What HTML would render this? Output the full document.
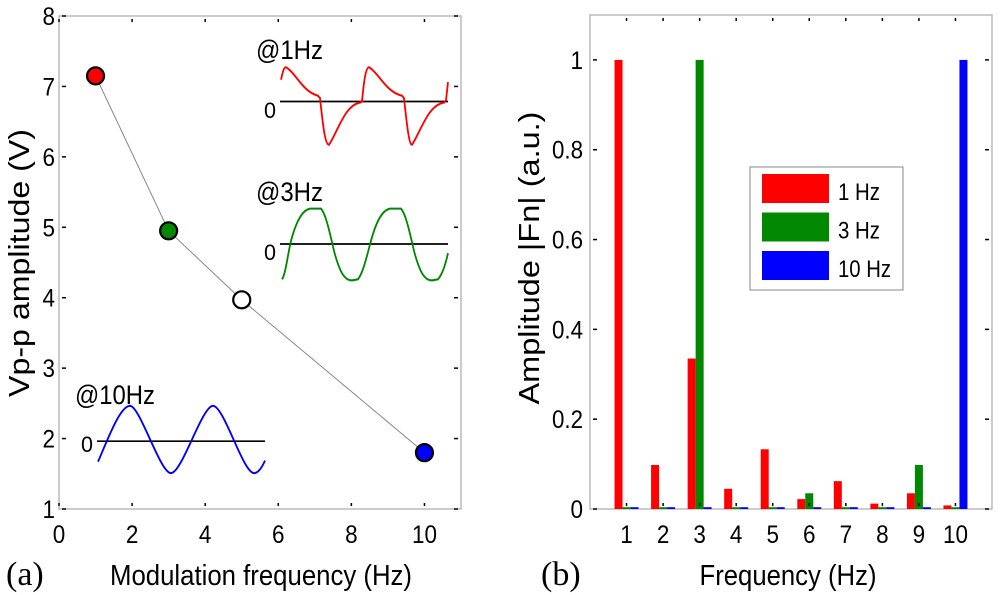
<!DOCTYPE html>
<html><head><meta charset="utf-8"><style>
body{margin:0;background:#fff;width:1000px;height:595px;overflow:hidden}
svg{display:block}
text{font-family:"Liberation Sans",sans-serif;fill:#000}
</style></head><body>
<svg id="fig" width="1000" height="595" viewBox="0 0 1000 595">
<g id="pa"></g>
<g id="pb"></g>
<g>
<text x="256" y="59" font-size="27" textLength="67" lengthAdjust="spacingAndGlyphs">@1Hz</text>
<text x="264" y="118" font-size="22" textLength="12" lengthAdjust="spacingAndGlyphs">0</text>
<g transform="scale(1,1.14)">
<line x1="280" y1="89" x2="448" y2="89" stroke="#000" stroke-width="1.5"/>
<path d="M281,70 C283,62 284,59 286,59 C296,64 302,80 318,84 L320,86 C323,110 325,127 329,127 C338,115 345,92 360,90 L362,89 C364,70 366,59 369,59 C379,64 385,80 402,84 L404,86 C407,110 409,127 412,127 C421,115 428,92 444,90 L446,88 L448,72" fill="none" stroke="#f00" stroke-width="1.8"/>
</g></g>
<g>
<text x="256" y="201" font-size="27" textLength="67" lengthAdjust="spacingAndGlyphs">@3Hz</text>
<text x="264" y="260" font-size="22" textLength="12" lengthAdjust="spacingAndGlyphs">0</text>
<g transform="scale(1,1.14)">
<line x1="280" y1="214" x2="448" y2="214" stroke="#000" stroke-width="1.5"/>
<path d="M282,245 C286,240 288,220 292,208 C298,190 304,184 310,183 L321,183 C326,188 330,205 334,220 C340,240 345,246 352,246 L358,245 C364,238 368,220 372,208 C378,190 384,184 390,183 L401,183 C406,188 410,205 414,220 C420,240 425,246 432,246 L438,245 C443,240 446,230 448,222" fill="none" stroke="#080" stroke-width="1.8"/>
</g></g>
<g>
<text x="75" y="404" font-size="27" textLength="80" lengthAdjust="spacingAndGlyphs">@10Hz</text>
<text x="81" y="452" font-size="22" textLength="12" lengthAdjust="spacingAndGlyphs">0</text>
<g transform="scale(1,1.14)">
<line x1="97" y1="387" x2="265" y2="387" stroke="#000" stroke-width="1.5"/>
<path d="M98,405 C108,385 120,356 130,356 C140,356 160,415 171,415 C182,415 202,356 213,356 C224,356 243,415 254,415 C259,415 263,408 265,404" fill="none" stroke="#00f" stroke-width="1.8"/>
</g></g>
<text x="6" y="585" font-size="34" style="font-family:'Liberation Serif',serif">(a)</text>
<text x="541" y="585" font-size="34" style="font-family:'Liberation Serif',serif">(b)</text>
</svg>
<script>
var NS="http://www.w3.org/2000/svg";
function mk(p,t,a){var e=document.createElementNS(NS,t);for(var k in a)e.setAttribute(k,a[k]);p.appendChild(e);return e;}
// Panel A data
var aFreq=[1,3,5,10];
var aVpp=[7.15,4.95,3.97,1.8];
var aColors=["#f00","#080","#fff","#00f"];
var aXTicks=[0,2,4,6,8,10];
var aYTicks=[1,2,3,4,5,6,7,8];
// Panel B data
var bCats=[1,2,3,4,5,6,7,8,9,10];
var b1Hz=[1,0.098,0.335,0.045,0.133,0.022,0.062,0.012,0.035,0.008];
var b3Hz=[0.004,0.004,1,0.004,0.004,0.035,0.004,0.004,0.098,0.004];
var b10Hz=[0.004,0.004,0.004,0.004,0.004,0.004,0.004,0.004,0.004,1];
var bYTicks=[0,0.2,0.4,0.6,0.8,1];
var bYLabels=["0","0.2","0.4","0.6","0.8","1"];
var legendLabels=["1 Hz","3 Hz","10 Hz"];

function lbl(p,x,y,txt,anchor,name){
 var s=String(txt);
 var t=mk(p,'text',{x:x,y:y,'font-size':25,'text-anchor':anchor});t.textContent=s;
 var w=0;for(var i=0;i<s.length;i++)w+=(s[i]=='.'?6:12.5);
 t.setAttribute('textLength',w);t.setAttribute('lengthAdjust','spacingAndGlyphs');
 return t;
}
var pa=document.getElementById('pa');
var AX0=59,AX1=461,AY0=509,AY1=16;
function ax(v){return AX0+(v-0)*(AX1-AX0)/11;}
function ay(v){return AY0-(v-1)*(AY0-AY1)/7;}
var r=mk(pa,'rect',{x:AX0,y:AY1,width:AX1-AX0,height:AY0-AY1,fill:'none',stroke:'#aaa','stroke-width':1.2});

aXTicks.forEach(function(v){
 lbl(pa,ax(v),543,v,'middle','panel-a-x-tick-label');
 mk(pa,'line',{x1:ax(v),y1:AY0-3,x2:ax(v),y2:AY0-6,stroke:'#000','stroke-width':1.5});
 mk(pa,'line',{x1:ax(v),y1:AY1+3,x2:ax(v),y2:AY1+6,stroke:'#000','stroke-width':1.5});
});
aYTicks.forEach(function(v){
 lbl(pa,AX0-4,ay(v)+9,v,'end','panel-a-y-tick-label');
 mk(pa,'line',{x1:AX0+3,y1:ay(v),x2:AX0+7,y2:ay(v),stroke:'#000','stroke-width':1.5});
 mk(pa,'line',{x1:AX1-3,y1:ay(v),x2:AX1-7,y2:ay(v),stroke:'#000','stroke-width':1.5});
});
var xt=mk(pa,'text',{x:261,y:585,'font-size':29,'text-anchor':'middle',textLength:302,lengthAdjust:'spacingAndGlyphs'});xt.textContent='Modulation frequency (Hz)';

var yt=mk(pa,'text',{x:0,y:0,'font-size':29,'text-anchor':'middle',textLength:268,lengthAdjust:'spacingAndGlyphs',transform:'translate(29,263) rotate(-90)'});yt.textContent='Vp-p amplitude (V)';

var pts=aFreq.map(function(f,i){return ax(f)+','+ay(aVpp[i]);}).join(' ');
var pl=mk(pa,'polyline',{points:pts,fill:'none',stroke:'#888','stroke-width':1});

aFreq.forEach(function(f,i){
 var c=mk(pa,'circle',{cx:ax(f),cy:ay(aVpp[i]),r:8.5,fill:aColors[i],stroke:'#000','stroke-width':2.2});
 
});

var pb=document.getElementById('pb');
var BX0=590,BX1=992,BY0=509,BY1=15;
function bx(v){return BX0+v*(BX1-BX0)/11;}
function by(v){return BY0-v*(BY0-BY1)/1.1;}
var r2=mk(pb,'rect',{x:BX0,y:BY1,width:BX1-BX0,height:BY0-BY1,fill:'none',stroke:'#aaa','stroke-width':1.2});

var series=[[b1Hz,'#f00',-8],[b3Hz,'#080',0],[b10Hz,'#00f',8]];
bCats.forEach(function(c,i){
 series.forEach(function(s){
  var v=s[0][i],h=BY0-by(v);
  var b=mk(pb,'rect',{x:bx(c)+s[2]-4,y:by(v),width:8,height:h,fill:s[1]});
  
 });
 lbl(pb,bx(c),543,c,'middle','panel-b-x-tick-label');
 mk(pb,'line',{x1:bx(c),y1:BY0-3,x2:bx(c),y2:BY0-6,stroke:'#000','stroke-width':1.5});
 mk(pb,'line',{x1:bx(c),y1:BY1+3,x2:bx(c),y2:BY1+6,stroke:'#000','stroke-width':1.5});
});
bYTicks.forEach(function(v,i){
 lbl(pb,BX0-7,by(v)+9,bYLabels[i],'end','panel-b-y-tick-label');
 mk(pb,'line',{x1:BX0+3,y1:by(v),x2:BX0+7,y2:by(v),stroke:'#000','stroke-width':1.5});
 mk(pb,'line',{x1:BX1-3,y1:by(v),x2:BX1-7,y2:by(v),stroke:'#000','stroke-width':1.5});
});
var xt2=mk(pb,'text',{x:788,y:585,'font-size':29,'text-anchor':'middle',textLength:177,lengthAdjust:'spacingAndGlyphs'});xt2.textContent='Frequency (Hz)';

var yt2=mk(pb,'text',{x:0,y:0,'font-size':29,'text-anchor':'middle',textLength:293,lengthAdjust:'spacingAndGlyphs',transform:'translate(539,258) rotate(-90)'});yt2.textContent='Amplitude |Fn| (a.u.)';

var lg=mk(pb,'g',{});

mk(lg,'rect',{x:750,y:167,width:153,height:123,fill:'#fff',stroke:'#888','stroke-width':1});
var lw=[42,42,53];
legendLabels.forEach(function(l,i){
 var g=mk(lg,'g',{});
 
 mk(g,'rect',{x:762,y:174+i*38.5,width:67,height:29,fill:series[i][1]});
 var t=mk(g,'text',{x:838,y:200+i*38.5,'font-size':24,textLength:lw[i],lengthAdjust:'spacingAndGlyphs'});t.textContent=l;
});
</script>
</body></html>
